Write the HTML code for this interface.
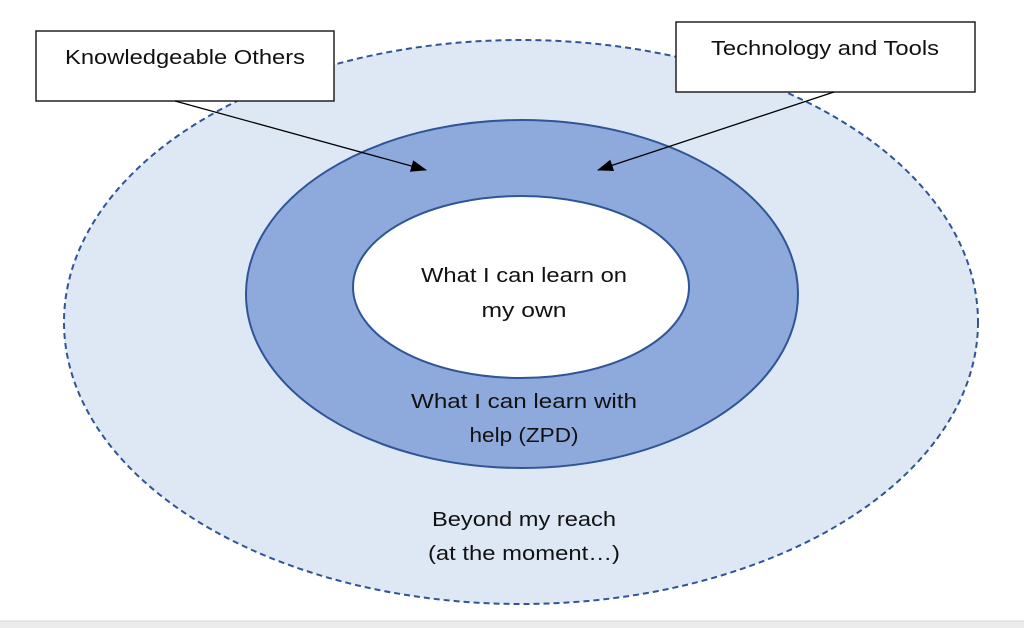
<!DOCTYPE html>
<html><head><meta charset="utf-8"><style>
html,body{margin:0;padding:0;background:#fff;width:1024px;height:628px;overflow:hidden}
svg text{font-family:"Liberation Sans",sans-serif;fill:#111}
</style></head><body>
<svg width="1024" height="628" viewBox="0 0 1024 628" xmlns="http://www.w3.org/2000/svg">
<defs><marker id="a" markerWidth="10" markerHeight="8" refX="9" refY="4" orient="auto" markerUnits="userSpaceOnUse" viewBox="0 0 10 8"><path d="M0,0 L10,4 L0,8 Z" fill="#000"/></marker>
<marker id="b" markerWidth="16" markerHeight="12" refX="15" refY="6" orient="auto" markerUnits="userSpaceOnUse"><path d="M0,0 L16,6 L0,12 Z" fill="#000"/></marker></defs>
<ellipse cx="521" cy="322" rx="457" ry="282" fill="#dee8f5" stroke="#2f5597" stroke-width="2" stroke-dasharray="6,4"/>
<ellipse cx="522" cy="294" rx="276" ry="174" fill="#8eaadc" stroke="#2f5597" stroke-width="2"/>
<ellipse cx="521" cy="287" rx="168" ry="91" fill="#fff" stroke="#2f5597" stroke-width="2"/>
<rect x="36" y="31" width="298" height="70" fill="#fff" stroke="#222" stroke-width="1.5"/>
<rect x="676" y="22" width="299" height="70" fill="#fff" stroke="#222" stroke-width="1.5"/>
<line x1="175" y1="101" x2="426" y2="170" stroke="#000" stroke-width="1.3" marker-end="url(#b)"/>
<line x1="834" y1="92" x2="598" y2="170" stroke="#000" stroke-width="1.3" marker-end="url(#b)"/>
<text x="185" y="64" font-size="20" text-anchor="middle" textLength="240" lengthAdjust="spacingAndGlyphs">Knowledgeable Others</text>
<text x="825" y="55" font-size="20" text-anchor="middle" textLength="228" lengthAdjust="spacingAndGlyphs">Technology and Tools</text>
<text x="524" y="282" font-size="20" text-anchor="middle" textLength="206" lengthAdjust="spacingAndGlyphs">What I can learn on</text>
<text x="524" y="317" font-size="20" text-anchor="middle" textLength="85" lengthAdjust="spacingAndGlyphs">my own</text>
<text x="524" y="408" font-size="20" text-anchor="middle" textLength="226" lengthAdjust="spacingAndGlyphs">What I can learn with</text>
<text x="524" y="442" font-size="20" text-anchor="middle" textLength="109" lengthAdjust="spacingAndGlyphs">help (ZPD)</text>
<text x="524" y="526" font-size="20" text-anchor="middle" textLength="184" lengthAdjust="spacingAndGlyphs">Beyond my reach</text>
<text x="524" y="560" font-size="20" text-anchor="middle" textLength="192" lengthAdjust="spacingAndGlyphs">(at the moment…)</text>
<rect x="0" y="621" width="1024" height="7" fill="#ececec"/>
<line x1="0" y1="621" x2="1024" y2="621" stroke="#d8d8d8" stroke-width="1"/>
</svg>
</body></html>
